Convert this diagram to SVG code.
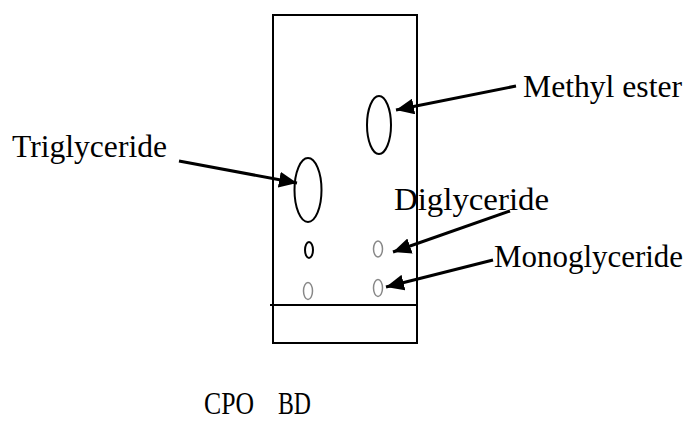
<svg xmlns="http://www.w3.org/2000/svg" width="691" height="422" viewBox="0 0 691 422">
<style>
.t{font-family:"Liberation Serif","Times New Roman",Tinos,serif;font-size:31px;fill:#000}
.blk{fill:none;stroke:#000;stroke-width:2}
.gry{fill:none;stroke:#888;stroke-width:1.5}
.arr{stroke:#000;stroke-width:3;fill:none;marker-end:url(#ah)}
</style>
<defs>
<marker id="ah" markerUnits="userSpaceOnUse" markerWidth="20" markerHeight="16" refX="18" refY="8" orient="auto">
<path d="M0,0 L18,8 L0,16 Z" fill="#000"/>
</marker>
</defs>
<g id="plate">
<rect x="273" y="15" width="144" height="328" fill="none" stroke="#000" stroke-width="2"/>
<line x1="270" y1="305" x2="417" y2="305" stroke="#000" stroke-width="2"/>
</g>
<g id="methyl-ester-spot"><ellipse class="blk" cx="379" cy="125" rx="12" ry="29"/></g>
<g id="triglyceride-spot"><ellipse class="blk" cx="308" cy="190" rx="13.5" ry="32"/></g>
<g id="cpo-small-spot"><ellipse class="blk" cx="309" cy="250" rx="4" ry="8"/></g>
<g id="diglyceride-spot"><ellipse class="gry" cx="378" cy="249" rx="4.5" ry="8"/></g>
<g id="cpo-mono-spot"><ellipse class="gry" cx="308" cy="291" rx="4.5" ry="8.5"/></g>
<g id="monoglyceride-spot"><ellipse class="gry" cx="378" cy="288" rx="4.5" ry="8.5"/></g>
<g id="connectors">
<line class="arr" x1="516" y1="86" x2="396" y2="110"/>
<line class="arr" x1="179" y1="161" x2="297" y2="183"/>
<line class="arr" x1="510" y1="211" x2="393" y2="252"/>
<line class="arr" x1="493" y1="260" x2="386" y2="287"/>
</g>
<g id="label-methyl-ester"><text class="t" x="523" y="97" textLength="159" lengthAdjust="spacingAndGlyphs">Methyl ester</text></g>
<g id="label-triglyceride"><text class="t" x="12" y="157" textLength="155" lengthAdjust="spacingAndGlyphs">Triglyceride</text></g>
<g id="label-diglyceride"><text class="t" x="394" y="210" textLength="155" lengthAdjust="spacingAndGlyphs">Diglyceride</text></g>
<g id="label-monoglyceride"><text class="t" x="494" y="267" textLength="189" lengthAdjust="spacingAndGlyphs">Monoglyceride</text></g>
<g id="label-lanes"><text class="t" x="204" y="414" font-size="25" textLength="50" lengthAdjust="spacingAndGlyphs">CPO</text><text class="t" x="278" y="414" font-size="25" textLength="33" lengthAdjust="spacingAndGlyphs">BD</text></g>
</svg>
